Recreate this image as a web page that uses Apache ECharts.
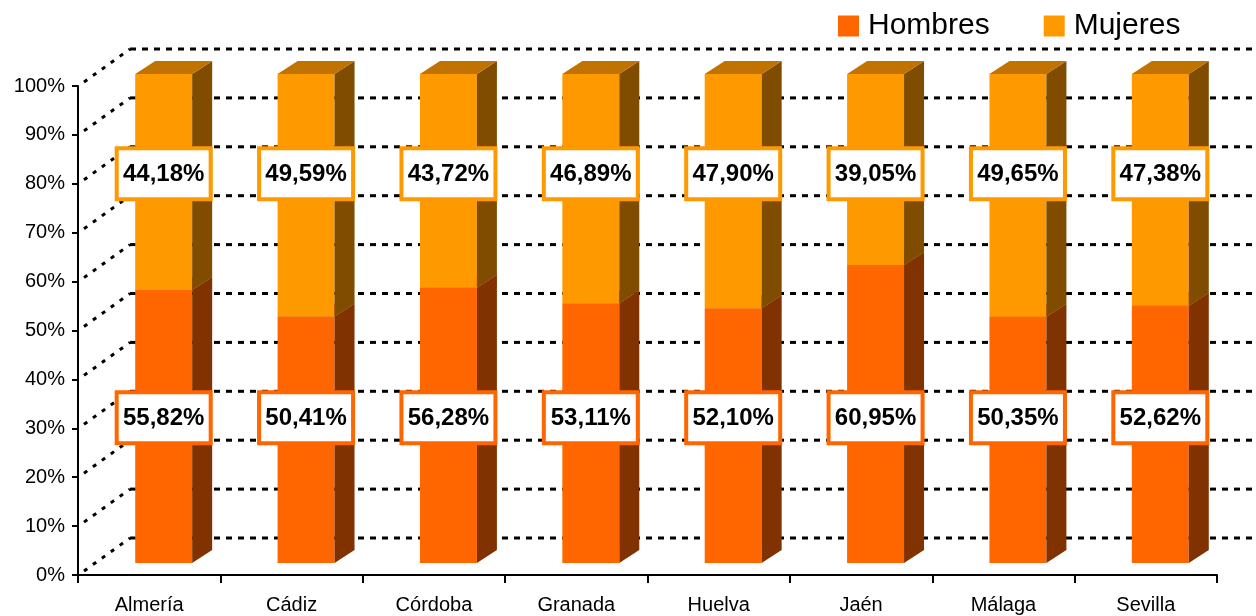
<!DOCTYPE html>
<html>
<head>
<meta charset="utf-8">
<script src="https://cdn.jsdelivr.net/npm/echarts@6/dist/echarts.min.js"></script>
<style>
  html, body { margin: 0; padding: 0; background: #fff; }
  #chart { width: 1256px; height: 616px; }
</style>
</head>
<body>
<div id="chart"></div>
<script>
// datos por provincia (%)
var provincias = ['Almería', 'Cádiz', 'Córdoba', 'Granada', 'Huelva', 'Jaén', 'Málaga', 'Sevilla']
var hombres = [55.82, 50.41, 56.28, 53.11, 52.10, 60.95, 50.35, 52.62]
var mujeres = [44.18, 49.59, 43.72, 46.89, 47.90, 39.05, 49.65, 47.38]
var yTicks = [0, 10, 20, 30, 40, 50, 60, 70, 80, 90, 100]

// 3d look: back wall, bar plane and bar depth offsets (px)
var wall = [52, -37]
var barShift = [14.5, -12]
var depth = [20, -13]

var font = "'Liberation Sans', Arial, sans-serif"

function fmt(v) {
  return v.toFixed(2).replace('.', ',') + '%'
}

// pared del fondo: lineas punteadas + diagonales desde el eje
function wallItem(params, api) {
  var cs = params.coordSys
  var y = api.coord([0, api.value(0)])[1]
  var x = cs.x
  return {
    type: 'group',
    children: [{
      type: 'line',
      shape: {x1: x + wall[0], y1: y + wall[1], x2: x + cs.width + wall[0] + 10, y2: y + wall[1]},
      style: {stroke: '#000', lineWidth: 3, lineDash: [6, 6]}
    }, {
      type: 'line',
      shape: {x1: x + 6, y1: y - 4, x2: x + wall[0], y2: y + wall[1]},
      style: {stroke: '#000', lineWidth: 3, lineDash: [4, 7]}
    }]
  }
}

function barItem(front, side, top, border, level) {
  return function(params, api) {
    var i = api.value(0), v0 = api.value(1), v1 = api.value(2)
    var w = api.size([1, 0])[0] * 0.4
    var p0 = api.coord([i, v0]), p1 = api.coord([i, v1])
    var x0 = p0[0] + barShift[0] - w / 2, x1 = x0 + w
    var yb = p0[1] + barShift[1], yt = p1[1] + barShift[1]
    var ly = api.coord([i, level])[1] + barShift[1]
    var cx = (x0 + x1) / 2
    return {
      type: 'group',
      children: [{
        type: 'rect',
        shape: {x: x0, y: yt, width: w, height: yb - yt},
        style: {fill: front}
      }, {
        type: 'polygon',
        shape: {points: [[x1, yb], [x1, yt], [x1 + depth[0], yt + depth[1]], [x1 + depth[0], yb + depth[1]]]},
        style: {fill: side}
      }, {
        type: 'polygon',
        shape: {points: [[x0, yt], [x1, yt], [x1 + depth[0], yt + depth[1]], [x0 + depth[0], yt + depth[1]]]},
        style: {fill: top}
      }, {
        type: 'rect',
        shape: {x: cx - 47, y: ly - 25.5, width: 94, height: 51},
        style: {fill: '#fff', stroke: border, lineWidth: 4}
      }, {
        type: 'text',
        x: cx,
        y: ly + 1,
        style: {
          text: fmt(api.value(3)),
          fill: '#000',
          font: 'bold 24px ' + font,
          align: 'center',
          verticalAlign: 'middle'
        }
      }]
    }
  }
}

var hombresData = [], mujeresData = []
for (var i = 0; i < provincias.length; i++) {
  hombresData.push([i, 0, hombres[i], hombres[i]])
  mujeresData.push([i, hombres[i], hombres[i] + mujeres[i], mujeres[i]])
}

var chart = echarts.init(document.getElementById('chart'))
chart.setOption({
  animation: false,
  grid: {left: 78, right: 39, top: 86, bottom: 41},
  legend: {
    data: ['Hombres', 'Mujeres'],
    left: 838,
    top: 11,
    padding: 0,
    itemGap: 54,
    itemWidth: 21,
    itemHeight: 21,
    icon: 'rect',
    textStyle: {fontSize: 30, color: '#000', fontFamily: font, padding: [0, 0, 0, 4]}
  },
  xAxis: {
    type: 'category',
    data: provincias,
    axisLine: {lineStyle: {color: '#000', width: 2}},
    axisTick: {show: true, length: 8, interval: 0, lineStyle: {color: '#000', width: 2}},
    axisLabel: {margin: 20, fontSize: 20, color: '#000', fontFamily: font, interval: 0},
    splitLine: {show: false}
  },
  yAxis: {
    type: 'value',
    min: 0,
    max: 100,
    interval: 10,
    axisLine: {show: true, lineStyle: {color: '#000', width: 2}},
    axisTick: {show: true, length: 6, lineStyle: {color: '#000', width: 2}},
    axisLabel: {formatter: '{value}%', margin: 13, fontSize: 20, color: '#000', fontFamily: font},
    splitLine: {show: false}
  },
  series: [{
    type: 'custom',
    name: 'pared',
    silent: true,
    clip: false,
    z: 1,
    renderItem: wallItem,
    data: yTicks.map(function(v) { return [v] }),
    encode: {y: 0}
  }, {
    type: 'custom',
    name: 'Hombres',
    clip: false,
    z: 2,
    itemStyle: {color: '#FF6600'},
    renderItem: barItem('#FF6600', '#803300', '#C04D00', '#FF6600', 29.7),
    data: hombresData,
    encode: {x: 0, y: [1, 2]}
  }, {
    type: 'custom',
    name: 'Mujeres',
    clip: false,
    z: 3,
    itemStyle: {color: '#FF9900'},
    renderItem: barItem('#FF9900', '#804D00', '#C07300', '#FF9900', 79.6),
    data: mujeresData,
    encode: {x: 0, y: [1, 2]}
  }]
})
</script>
</body>
</html>
